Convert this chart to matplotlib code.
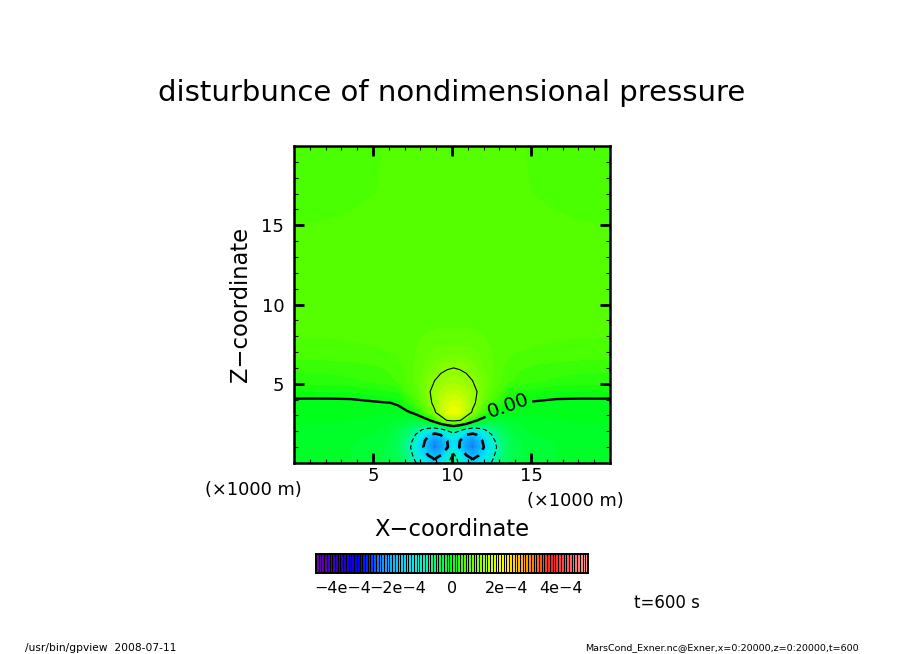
import numpy as np
import matplotlib
matplotlib.use("Agg")
import matplotlib.pyplot as plt
from matplotlib.colors import LinearSegmentedColormap, BoundaryNorm

W, H = 904, 654
centre_x = 10.1
# distance from the symmetry axis (km)
dist = [0, .4, .8, 1.2, 1.6, 2, 2.5, 3, 3.5, 4, 5, 6.5, 8, 10.2]
# height (km)
height = [0, .3, .6, 1, 1.4, 1.8, 2.1, 2.4, 2.7, 3.2, 3.8, 4.5, 5.2, 6, 7, 8.5, 10, 12, 15, 17.5, 20]
# pressure disturbance in units of 1e-4; rows = height, columns = dist
half_field = [
 [-.6,-1.15,-1.7,-1.9,-1.6,-1.3,-.9,-.6,-.45,-.35,-.25,-.2,-.18,-.17],
 [-.75,-1.25,-1.8,-2.05,-1.85,-1.45,-1.02,-.65,-.45,-.35,-.25,-.2,-.18,-.17],
 [-.98,-1.6,-2.1,-2.4,-2.1,-1.7,-1.1,-.7,-.47,-.35,-.25,-.2,-.18,-.17],
 [-1.55,-2.05,-2.5,-2.8,-2.35,-1.9,-1.2,-.75,-.5,-.35,-.24,-.2,-.18,-.17],
 [-1.55,-2.0,-2.4,-2.65,-2.25,-1.8,-1.1,-.7,-.47,-.33,-.23,-.19,-.17,-.16],
 [-1.15,-1.5,-1.95,-2.15,-1.9,-1.45,-.9,-.6,-.42,-.3,-.2,-.17,-.15,-.14],
 [-.65,-.85,-1.15,-1.3,-1.2,-1.0,-.7,-.5,-.37,-.27,-.18,-.15,-.13,-.12],
 [.2,.05,-.2,-.45,-.5,-.55,-.45,-.4,-.3,-.22,-.15,-.12,-.11,-.1],
 [1.15,1.05,.7,.25,-.05,-.2,-.25,-.25,-.22,-.18,-.12,-.1,-.09,-.08],
 [1.7,1.62,1.3,.95,.6,.3,.05,-.05,-.1,-.1,-.08,-.06,-.05,-.05],
 [1.55,1.5,1.35,1.1,.88,.6,.35,.2,.04,.0,-.02,-.05,-.06,-.06],
 [1.35,1.3,1.22,1.1,.96,.72,.52,.4,.2,.2,.15,.1,.1,.1],
 [1.15,1.12,1.08,1.0,.9,.76,.6,.5,.42,.37,.32,.28,.26,.25],
 [1.0,.98,.94,.85,.76,.68,.6,.52,.46,.42,.38,.35,.33,.32],
 [.74,.74,.73,.72,.69,.65,.59,.54,.51,.5,.49,.48,.47,.47],
 [.6,.6,.6,.59,.58,.57,.56,.55,.54,.54,.53,.52,.52,.52],
 [.56,.56,.56,.56,.56,.56,.56,.55,.55,.55,.54,.53,.53,.52],
 [.56,.56,.56,.56,.56,.56,.56,.56,.56,.55,.54,.54,.53,.53],
 [.56,.56,.56,.56,.56,.56,.56,.56,.56,.55,.53,.515,.505,.5],
 [.56,.56,.56,.56,.56,.56,.56,.56,.55,.53,.49,.47,.46,.45],
 [.56,.56,.56,.56,.56,.56,.56,.55,.54,.52,.48,.46,.45,.44],
]
level_step = 0.1
level_min, level_max = -5.0, 5.0
contour_thin = [-1.0, 1.0]
contour_thick = [-2.0, 0.0]
cbar_ticks = [-4, -2, 0, 2, 4]
cbar_labels = ["\u22124e\u22124", "\u22122e\u22124", "0", "2e\u22124", "4e\u22124"]
ticks_major = [5, 10, 15]
color_stops = [(-5, (110,0,170)), (-4.2, (50,0,190)), (-3.5, (0,0,255)), (-3, (0,60,255)),
               (-2.7, (20,140,255)), (-2, (0,205,255)), (-1.5, (0,235,240)), (-1, (0,245,190)),
               (-.5, (0,255,90)), (0, (0,255,20)), (.5, (80,255,0)), (1, (135,255,0)),
               (1.7, (240,255,0)), (2, (255,240,0)), (2.8, (255,150,0)),
               (3.7, (255,30,30)), (4.3, (255,90,90)), (5, (255,150,150))]

cmap = LinearSegmentedColormap.from_list(
    "gp", [((v+5)/10, tuple(c/255 for c in rgb)) for v, rgb in color_stops], N=100)
levels = np.linspace(level_min, level_max, int(round((level_max-level_min)/level_step))+1)
norm = BoundaryNorm(levels, cmap.N)

half = np.array(half_field)
d = np.array(dist)
x = np.concatenate([centre_x - d[:0:-1], centre_x + d])
field = np.hstack([half[:, :0:-1], half])
z = np.array(height)

def box(l, t, r, b):
    return [l/W, (H-b)/H, (r-l)/W, (b-t)/H]

def label(px, py, s, size, **kw):
    fig.text(px/W, (H-py)/H, s, fontsize=size, ha=kw.pop("ha", "center"), va="center", **kw)

plt.rcParams["font.family"] = ["DejaVu Sans"]
fig = plt.figure(figsize=(W/100, H/100), dpi=100)
ax = fig.add_axes(box(294, 146, 610, 463))
ax.contourf(x, z, field, levels=levels, cmap=cmap, norm=norm, antialiased=False)
dash = (0, (4, 2.5))
ax.contour(x, z, field, levels=contour_thin, colors="k", linewidths=0.8,
           linestyles=[dash, "solid"])
ax.contour(x, z, field, levels=[contour_thick[0]], colors="k", linewidths=1.9, linestyles=[dash])
zero = ax.contour(x, z, field, levels=[contour_thick[1]], colors="k", linewidths=1.7)
ax.clabel(zero, fmt="%.2f", fontsize=14, manual=[(13.6, 3.5)], inline=True, inline_spacing=3)
ax.set_xlim(0, 20); ax.set_ylim(0, 20)
ax.set_xticks(ticks_major); ax.set_yticks(ticks_major)
ax.set_xticks(range(1, 20), minor=True); ax.set_yticks(range(1, 20), minor=True)
ax.tick_params(which="major", direction="in", length=7, width=2, top=True, right=True, labelsize=13)
ax.tick_params(which="minor", direction="in", length=3, width=0.8, top=True, right=True)
ax.tick_params(axis="x", which="major", pad=3)
ax.tick_params(axis="y", which="major", pad=7)
for s in ax.spines.values():
    s.set_linewidth(1.8)

label(452, 93, "disturbunce of nondimensional pressure", 21)
label(240, 304, "Z\u2212coordinate", 16.3, rotation=90)
label(452, 529, "X\u2212coordinate", 16.3)
label(253, 490, "(\u00d71000 m)", 12.8)
label(575, 501, "(\u00d71000 m)", 12.8)
label(667, 603, "t=600 s", 12)
label(25, 648, "/usr/bin/gpview  2008-07-11", 7.7, ha="left")
label(859, 648, "MarsCond_Exner.nc@Exner,x=0:20000,z=0:20000,t=600", 6.8, ha="right")

cax = fig.add_axes(box(316, 554, 588, 573))
cax.pcolormesh(levels, [0, 1], (levels[:-1]+level_step/2).reshape(1, -1), cmap=cmap, norm=norm,
               edgecolors="k", linewidth=0.72, antialiased=False)
cax.set_xlim(level_min, level_max); cax.set_ylim(0, 1)
cax.set_yticks([]); cax.set_xticks(cbar_ticks, cbar_labels, fontsize=11.5)
cax.tick_params(length=0, pad=6)
for s in cax.spines.values():
    s.set_linewidth(1.4)

fig.savefig("out.png", dpi=100)
